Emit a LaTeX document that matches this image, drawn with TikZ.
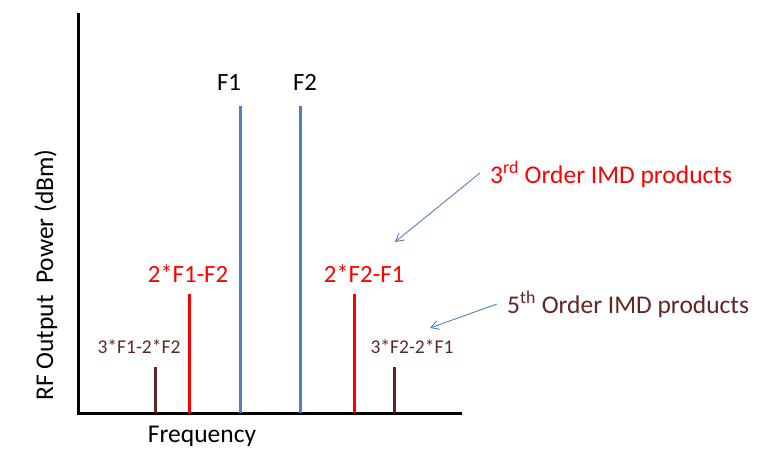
\documentclass[tikz,border=0pt]{standalone}
\usepackage{fontspec}
\setmainfont{Carlito}
\usetikzlibrary{arrows.meta}
\definecolor{ofblue}{RGB}{79,129,189}
\definecolor{ofred}{RGB}{255,0,0}
\definecolor{ofbrown}{RGB}{99,37,35}
\tikzset{
  axisline/.style={line width=3pt, black},
  toneline/.style={line width=3pt, ofblue},
  imdthree/.style={line width=3pt, ofred},
  imdfive/.style={line width=3pt, ofbrown},
  biglbl/.style={inner sep=0pt, font=\fontsize{25.5}{30}\selectfont},
  tonelbl/.style={inner sep=0pt, font=\fontsize{24.8}{30}\selectfont},
  smalllbl/.style={inner sep=0pt, font=\fontsize{19.5}{23}\selectfont, text=ofbrown},
  pointer/.style={ofblue, line width=0.9pt, -{Straight Barb[angle=60:9pt]}}
}
\begin{document}
\begin{tikzpicture}[x=1pt,y=-1pt]
\useasboundingbox (0,0) rectangle (772,460);
% axes
\coordinate (ytop) at (78,13);
\coordinate (orig) at (78,413);
\coordinate (xend) at (462,413);
\draw[axisline] (ytop) -- (orig) -- (xend);
% spectral lines
\coordinate (b1) at (155,413); \coordinate (t1) at (155,367);
\coordinate (b2) at (189,413); \coordinate (t2) at (189,294);
\coordinate (b3) at (240,413); \coordinate (t3) at (240,106);
\coordinate (b4) at (300,413); \coordinate (t4) at (300,106);
\coordinate (b5) at (354,413); \coordinate (t5) at (354,294);
\coordinate (b6) at (394,413); \coordinate (t6) at (394,367);
\draw[imdfive] (b1) -- (t1);
\draw[imdthree] (b2) -- (t2);
\draw[toneline] (b3) -- (t3);
\draw[toneline] (b4) -- (t4);
\draw[imdthree] (b5) -- (t5);
\draw[imdfive] (b6) -- (t6);
% labels
\node[tonelbl, anchor=base] (lf1) at (229,91) {F1};
\node[tonelbl, anchor=base] (lf2) at (305,91) {F2};
\node[tonelbl, anchor=base, text=ofred] (l21) at (188,282) {2*F1-F2};
\node[tonelbl, anchor=base, text=ofred] (l22) at (364,282) {2*F2-F1};
\node[smalllbl, anchor=base] (l31) at (139,353) {3*F1-2*F2};
\node[smalllbl, anchor=base] (l32) at (412,353) {3*F2-2*F1};
\node[biglbl, anchor=base] (freq) at (202,442) {Frequency};
\node[biglbl, anchor=base, rotate=90] (ylab) at (53,275) {RF Output\ \ Power (dBm)};
\node[biglbl, anchor=base west, text=ofred] (third) at (490,183) {3\textsuperscript{rd} Order IMD products};
\node[biglbl, anchor=base west, text=ofbrown] (fifth) at (507,313) {5\textsuperscript{th} Order IMD products};
% pointers
\coordinate (p3s) at (480,173);
\coordinate (p3e) at (395,242);
\coordinate (p5s) at (497,304);
\coordinate (p5e) at (430,328);
\draw[pointer] (p3s) -- (p3e);
\draw[pointer] (p5s) -- (p5e);
\end{tikzpicture}
\end{document}
